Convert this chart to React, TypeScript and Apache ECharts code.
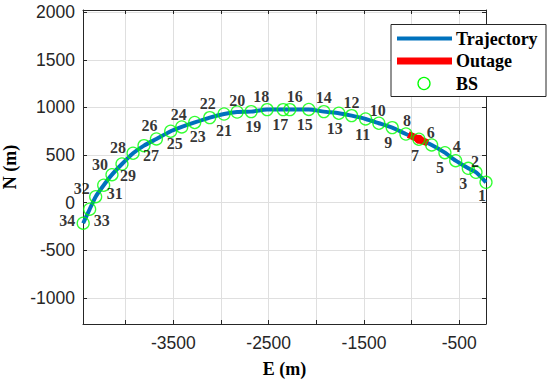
import React, { useEffect, useRef } from "react";
import * as echarts from "echarts";

// Base station positions (E, N) in metres, BS 1..34
const bsEast = [
  -220, -325, -406, -538, -651, -790, -924, -1060, -1204, -1344,
  -1483, -1630, -1764, -1921, -2079, -2278, -2348, -2516, -2684, -2831,
  -2968, -3118, -3276, -3412, -3528, -3678, -3808, -3923, -4039, -4144,
  -4231, -4315, -4378, -4446,
];
const bsNorth = [
  214, 319, 361, 441, 525, 606, 666, 721, 788, 834,
  879, 914, 939, 956, 979, 977, 977, 977, 956, 952,
  931, 893, 842, 795, 750, 669, 599, 519, 406, 294,
  183, 63, -69, -216,
];
// Outage segment of the trajectory
const outageEast = [-1035, -924, -830];
const outageNorth = [716, 666, 626];

// Axis ticks
const xTicks = [-4000, -3500, -3000, -2500, -2000, -1500, -1000, -500];
const xTickLabels = [-3500, -2500, -1500, -500];
const yTicks = [-1000, -500, 0, 500, 1000, 1500, 2000];

// Label offsets (pixels, style only)
const labelOffsets: [number, number][] = [
  [-4, 13], [-1, -11], [-5, 15], [1, -14], [-5, 15], [-1, -12], [-4, 16], [1, -14],
  [-4, 15], [-1, -13], [-3, 16], [0, -13], [-4, 15], [0, -14], [-4, 15], [5, -13],
  [-3, 15], [-6, -13], [2, 15], [0, -12], [0, 16], [-2, -14], [3, 14], [-3, -12],
  [4, 12], [-7, -13], [7, 10], [-15, -6], [6, 11], [-12, -10], [11, 8], [-14, -8],
  [12, 11], [-16, -3],
];

const AX = "#262626";
const SERIF = "Liberation Serif";
const SANS = "Liberation Sans";

export default function App() {
  const ref = useRef<HTMLDivElement>(null);
  useEffect(() => {
    if (!ref.current) return;
    const chart = echarts.init(ref.current, undefined, { renderer: "svg" });
    const bsData = bsEast.map((e, i) => ({
      value: [e, bsNorth[i]],
      label: { offset: labelOffsets[i] },
    }));
    const trajData = bsEast.map((e, i) => [e, bsNorth[i]]);
    const outData = outageEast.map((e, i) => ({
      value: [e, outageNorth[i]],
      symbolSize: i === 1 ? 9 : 0,
    }));
    const xMin = -4448, xMax = -220, yMin = -1274, yMax = 2023;
    const tickLine = { color: AX, width: 1 };
    const fmt = (v: number) => String(v);
    const legText = (y: number, text: string) => ({
      type: "text", x: 456, y, z: 101,
      style: { text, fontFamily: SERIF, fontWeight: "bold", fontSize: 18, fill: "#000", verticalAlign: "middle", align: "left" },
    });
    chart.setOption({
      animation: false,
      backgroundColor: "#ffffff",
      grid: { left: 83, top: 10, right: 64, bottom: 59, containLabel: false, outerBoundsMode: "none" },
      xAxis: [
        {
          type: "value", min: xMin, max: xMax, position: "bottom",
          axisLine: { show: true, onZero: false, lineStyle: tickLine },
          axisTick: { show: true, inside: true, length: 4, customValues: xTicks, lineStyle: tickLine },
          axisLabel: { customValues: xTickLabels, formatter: fmt, fontSize: 17.5, color: AX, fontFamily: SANS, margin: 10 },
          splitLine: { show: true, lineStyle: { color: "#dfdfdf", width: 1 } },
          name: "E (m)", nameLocation: "middle", nameGap: 36,
          nameTextStyle: { fontFamily: SERIF, fontWeight: "bold", fontSize: 18, color: "#000" },
        },
        {
          type: "value", min: xMin, max: xMax, position: "top",
          axisLine: { show: true, onZero: false, lineStyle: tickLine },
          axisTick: { show: true, inside: true, length: 4, customValues: xTicks, lineStyle: tickLine },
          axisLabel: { show: false },
          splitLine: { show: false },
        },
      ],
      yAxis: [
        {
          type: "value", min: yMin, max: yMax, position: "left",
          axisLine: { show: true, onZero: false, lineStyle: tickLine },
          axisTick: { show: true, inside: true, length: 4, customValues: yTicks, lineStyle: tickLine },
          axisLabel: { customValues: yTicks, formatter: fmt, fontSize: 17.5, color: AX, fontFamily: SANS, margin: 8 },
          splitLine: { show: true, lineStyle: { color: "#dfdfdf", width: 1 } },
          name: "N (m)", nameLocation: "middle", nameGap: 57,
          nameTextStyle: { fontFamily: SERIF, fontWeight: "bold", fontSize: 18, color: "#000" },
        },
        {
          type: "value", min: yMin, max: yMax, position: "right",
          axisLine: { show: true, onZero: false, lineStyle: tickLine },
          axisTick: { show: true, inside: true, length: 4, customValues: yTicks, lineStyle: tickLine },
          axisLabel: { show: false },
          splitLine: { show: false },
        },
      ],
      series: [
        {
          name: "Trajectory", type: "line", data: trajData, smooth: 0.2,
          showSymbol: false, symbol: "none",
          lineStyle: { color: "#0072BD", width: 4 },
          z: 2,
        },
        {
          name: "Outage", type: "line", data: outData, smooth: false,
          symbol: "circle", showSymbol: true,
          itemStyle: { color: "#ff0000" },
          lineStyle: { color: "#ff0000", width: 7 },
          z: 3,
        },
        {
          name: "BS", type: "scatter", data: bsData, symbol: "circle", symbolSize: 12,
          itemStyle: { color: "rgba(0,0,0,0)", borderColor: "#00ff00", borderWidth: 1.3 },
          label: {
            show: true, position: "inside",
            formatter: (p: any) => String(p.dataIndex + 1),
            fontFamily: SERIF, fontWeight: "bold", fontSize: 16, color: "#000",
          },
          z: 4,
        },
      ],
      graphic: [
        { type: "rect", z: 100, shape: { x: 391, y: 24.5, width: 155, height: 72 }, style: { fill: "#fff", stroke: AX, lineWidth: 1 } },
        { type: "line", z: 101, shape: { x1: 397, y1: 38.5, x2: 452, y2: 38.5 }, style: { stroke: "#0072BD", lineWidth: 4 } },
        { type: "line", z: 101, shape: { x1: 397, y1: 61, x2: 452, y2: 61 }, style: { stroke: "#ff0000", lineWidth: 7 } },
        { type: "circle", z: 101, shape: { cx: 424, cy: 83.5, r: 6 }, style: { fill: "none", stroke: "#00ff00", lineWidth: 1.3 } },
        legText(38.5, "Trajectory"),
        legText(61, "Outage"),
        legText(83.5, "BS"),
      ],
    });
    return () => chart.dispose();
  }, []);
  return <div ref={ref} style={{ width: 550, height: 383, position: "absolute", left: 0, top: 0 }} />;
}
